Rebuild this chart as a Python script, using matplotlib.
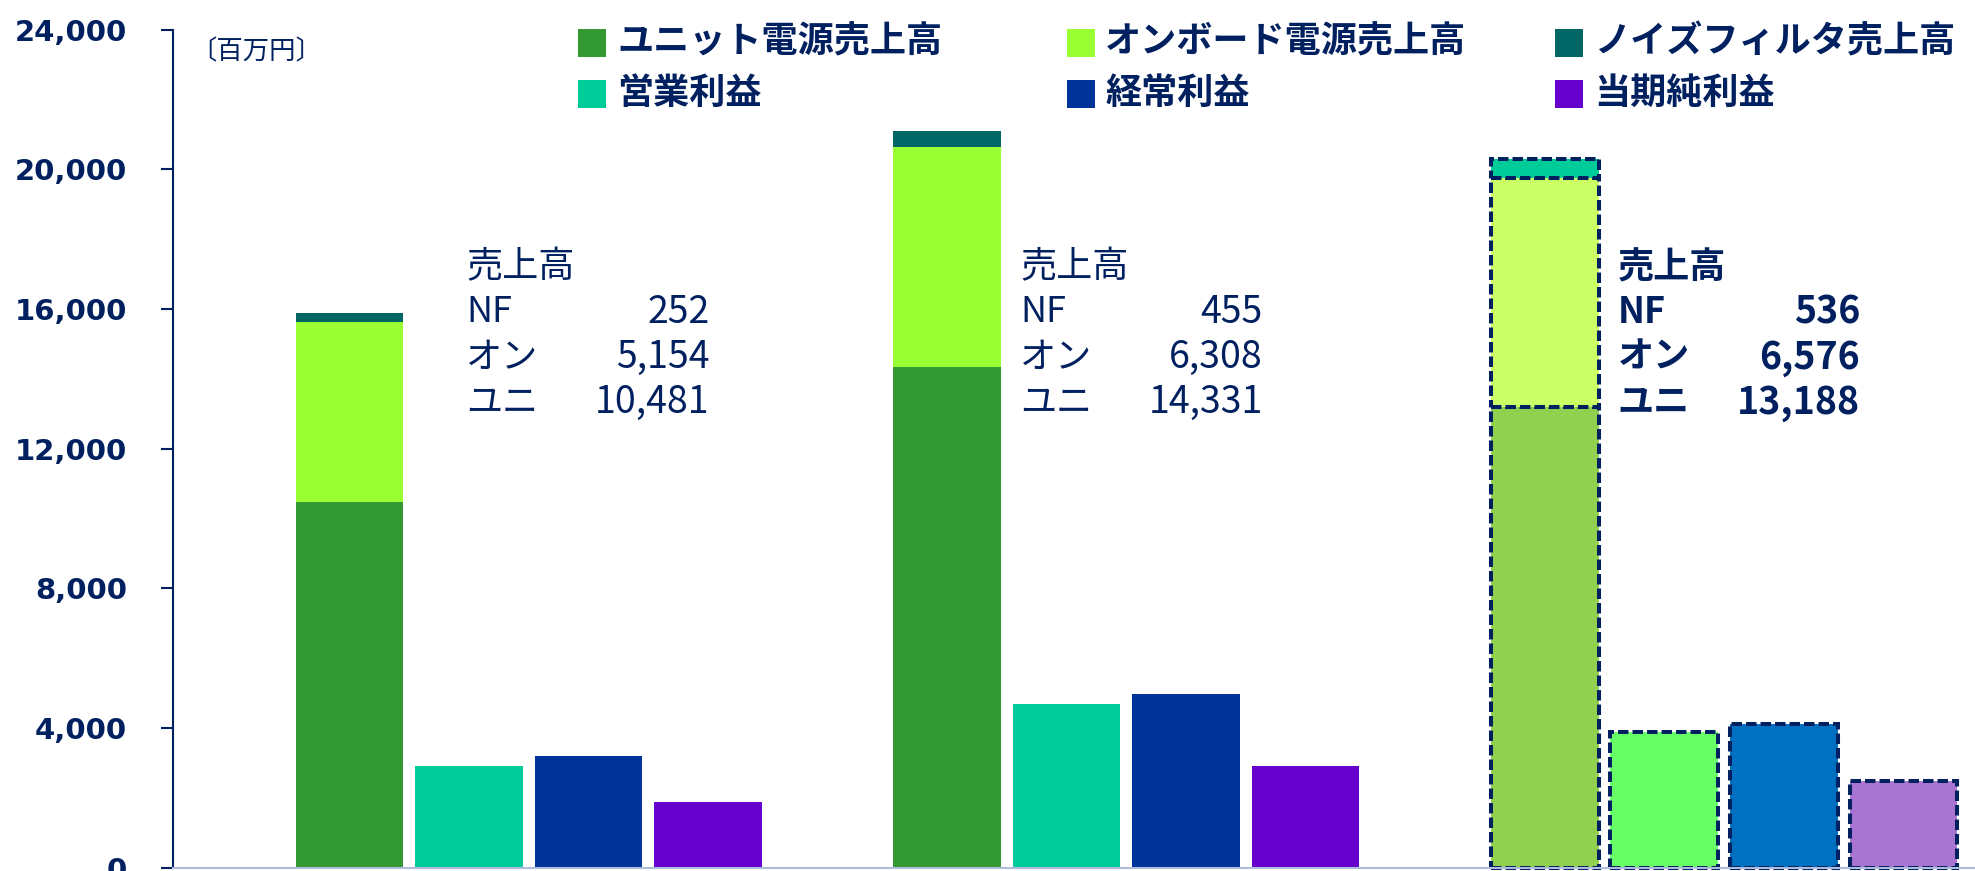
import matplotlib
matplotlib.use("Agg")
import matplotlib.pyplot as plt
from matplotlib.patches import Rectangle
from matplotlib.ticker import FuncFormatter

plt.rcParams["font.family"] = ["Noto Sans CJK JP", "DejaVu Sans"]

NAVY = "#002060"

# sales (百万円) per period: last two actual, final one forecast
unit_sales = [10481, 14331, 13188]
onboard_sales = [5154, 6308, 6576]
filter_sales = [252, 455, 536]
operating_profit = [2900, 4680, 3870]
ordinary_profit = [3200, 4960, 4100]
net_profit = [1880, 2900, 2490]

series_names = ["ユニット電源売上高", "オンボード電源売上高", "ノイズフィルタ売上高",
                "営業利益", "経常利益", "当期純利益"]
sales_rows = ["NF", "オン", "ユニ"]

actual_colors = ["#339933", "#99FF33", "#006666", "#00CC99", "#003399", "#6600CC"]
forecast_colors = ["#92D050", "#CCFF66", "#00CC99", "#66FF66", "#0070C0", "#A975D3"]

W, H = 1975, 871
fig = plt.figure(figsize=(W / 100, H / 100), dpi=100)
ax = fig.add_axes([173 / W, 3.5 / H, 1 - 173 / W, (867.5 - 29.7) / H])

bw = 0.9
for g in range(3):
    x0 = g * 5
    if g == 2:
        cols = forecast_colors
        style = dict(edgecolor=NAVY, linewidth=2.9, linestyle=(0, (2.6, 1.0)), clip_on=False)
    else:
        cols = actual_colors
        style = dict(edgecolor="none")
    base = 0
    for val, c in zip([unit_sales[g], onboard_sales[g], filter_sales[g]], cols[:3]):
        ax.bar(x0, val, bw, bottom=base, color=c, **style)
        base += val
    ax.bar(x0 + 1, operating_profit[g], bw, color=cols[3], **style)
    ax.bar(x0 + 2, ordinary_profit[g], bw, color=cols[4], **style)
    ax.bar(x0 + 3, net_profit[g], bw, color=cols[5], **style)

    # sales breakdown text beside the stacked bar
    lx = x0 + (0.975 if g == 0 else 0.61)
    rx = x0 + (3.01 if g == 0 else 2.64)
    wt = "bold" if g == 2 else "normal"
    ax.text(lx, 17180, "売上高", fontsize=26, color=NAVY, fontweight=wt, va="center")
    vals = [filter_sales[g], onboard_sales[g], unit_sales[g]]
    for k, (name, v) in enumerate(zip(sales_rows, vals)):
        y = 15900 - k * 1290
        ax.text(lx, y, name, fontsize=26, color=NAVY, fontweight=wt, va="center")
        ax.text(rx, y, f"{v:,}", fontsize=27, color=NAVY, fontweight=wt,
                va="center", ha="right")

ax.set_xlim(-1.477, 13.6)
ax.set_ylim(0, 24000)
ax.set_yticks(range(0, 24001, 4000))
ax.yaxis.set_major_formatter(FuncFormatter(lambda v, _: f"{int(v):,}"))
ax.set_xticks([])
for lab in ax.get_yticklabels():
    lab.set_family("DejaVu Sans")
    lab.set_fontweight("bold")
ax.tick_params(axis="y", colors=NAVY, labelsize=21, length=9, width=1.5, pad=24)
ax.spines["top"].set_visible(False)
ax.spines["right"].set_visible(False)
ax.spines["left"].set_color(NAVY)
ax.spines["left"].set_linewidth(1.5)
ax.spines["bottom"].set_color("#B0BCDC")
ax.spines["bottom"].set_linewidth(1.5)

fig.text(190 / W, 1 - 52 / H, "〔百万円〕", fontsize=19, color=NAVY, va="center")

# legend laid out in three columns, two rows
legend_cols = [(578, 617), (1067, 1105), (1555, 1594)]
legend_rows = [43, 94]
order = [(0, 0), (1, 0), (2, 0), (0, 1), (1, 1), (2, 1)]
for idx, (ci, ri) in enumerate(order):
    sx, tx = legend_cols[ci]
    yc = legend_rows[ri]
    fig.add_artist(Rectangle((sx / W, 1 - (yc + 14) / H), 28 / W, 28 / H,
                             transform=fig.transFigure, color=actual_colors[idx], lw=0))
    fig.text(tx / W, 1 - (yc - 1) / H, series_names[idx], fontsize=26,
             fontweight="bold", color=NAVY, va="center")

fig.savefig("out.png", dpi=100)
